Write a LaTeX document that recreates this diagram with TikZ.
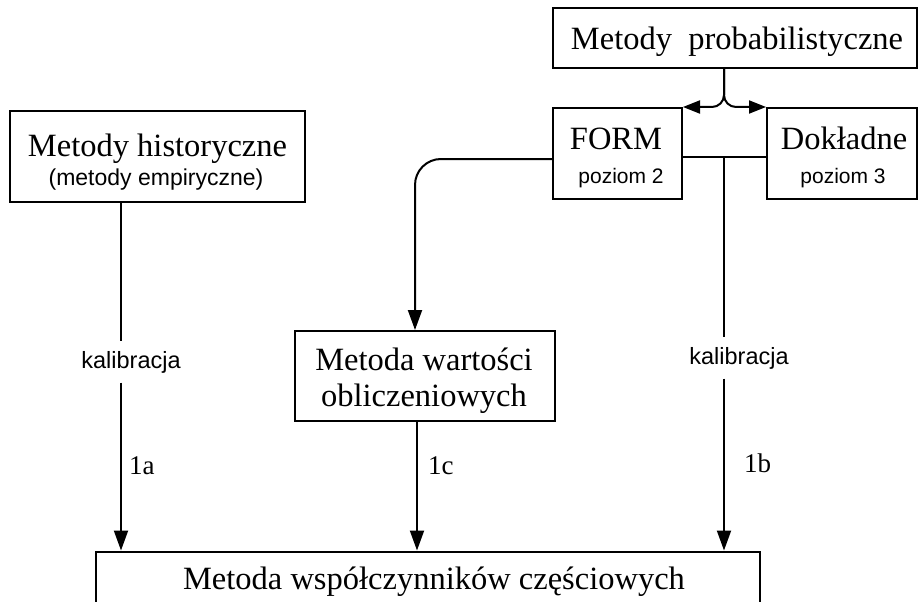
\documentclass[tikz,border=0pt]{standalone}
\usepackage{fontspec}
\setmainfont{Liberation Serif}
\newfontfamily\labsans{Liberation Sans}
\usetikzlibrary{arrows.meta}
\begin{document}
\begin{tikzpicture}[x=1pt,y=-1pt,
  box/.style={draw, line width=2pt, rectangle, inner sep=0pt},
  conn/.style={line width=2pt},
  arr/.style={conn, -{Triangle[length=20pt,width=14pt]}},
  sarr/.style={conn, -{Triangle[length=17pt,width=13pt]}},
  big/.style={font=\fontsize{32.5}{36}\selectfont, anchor=base, inner sep=0pt},
  small/.style={font=\labsans\fontsize{23}{26}\selectfont, anchor=base, inner sep=0pt},
  tiny/.style={font=\labsans\fontsize{21}{26}\selectfont, anchor=base, inner sep=0pt},
  lab/.style={font=\labsans\fontsize{23.5}{26}\selectfont, inner xsep=1pt, inner ysep=9.5pt},
  num/.style={font=\fontsize{27}{30}\selectfont, inner sep=1pt, anchor=west},
]
\clip (0,0) rectangle (919,602);
\fill[white] (0,0) rectangle (919,602);
% boxes
\node[box, minimum width=364pt, minimum height=60pt] (prob) at (735,38) {};
\node[box, minimum width=295pt, minimum height=91pt] (hist) at (157.5,156) {};
\node[box, minimum width=129pt, minimum height=91pt] (form) at (617.5,153.5) {};
\node[box, minimum width=150pt, minimum height=91pt] (dok) at (842,153.5) {};
\node[box, minimum width=260pt, minimum height=90pt] (wart) at (425,376) {};
\node[box, minimum width=664pt, minimum height=51pt] (bot) at (428,577) {};
% box texts
\node[big] (probT) at (737,50) {Metody\ \ probabilistyczne};
\node[big] (histT) at (157.5,157) {Metody historyczne};
\node[small] (histS) at (156,185) {(metody empiryczne)};
\node[big] (formT) at (616,149) {FORM};
\node[tiny] (formS) at (621,183) {poziom 2};
\node[big] (dokT) at (844,149) {Dokładne};
\node[tiny] (dokS) at (843,183) {poziom 3};
\node[big] (wartT) at (424,370) {Metoda wartości};
\node[big] (wartS) at (424,406) {obliczeniowych};
\node[big] (botT) at (434,589) {Metoda współczynników częściowych};
% labels
\node[lab] (kal1) at (131,362) {kalibracja};
\node[lab] (kal2) at (739,358) {kalibracja};
\node[num] (l1a) at (128,466) {1a};
\node[num] (l1c) at (427,466) {1c};
\node[num] (l1b) at (743,463) {1b};
% helper coordinates
\coordinate (xa) at (121,0);
\coordinate (xc) at (417,0);
\coordinate (xw) at (415,0);
\coordinate (mid) at (724,157);
\coordinate (fl) at (0,159);
% connectors
\draw[conn] (hist.south -| xa) -- (kal1.north -| xa);
\draw[arr] (kal1.south -| xa) -- (bot.north -| xa);
\draw[arr] (wart.south -| xc) -- (bot.north -| xc);
\draw[conn] (form.east |- mid) -- (dok.west |- mid);
\draw[conn] (mid) -- (kal2.north -| mid);
\draw[arr] (kal2.south -| mid) -- (bot.north -| mid);
\draw[arr, rounded corners=26pt] (form.west |- fl) -| (wart.north -| xw);
\draw[sarr, rounded corners=12pt] (prob.south -| mid) |- (form.north east);
\draw[sarr, rounded corners=12pt] (prob.south -| mid) |- (dok.north west);
\end{tikzpicture}
\end{document}
